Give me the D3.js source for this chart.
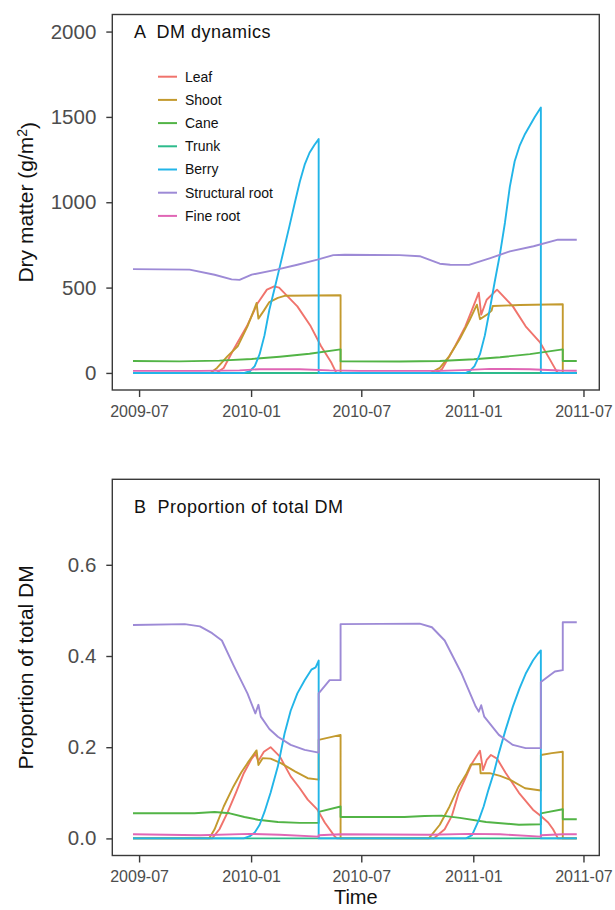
<!DOCTYPE html>
<html>
<head>
<meta charset="utf-8">
<script src="https://cdn.jsdelivr.net/npm/d3@7"></script>
<style>
  body { margin: 0; background: #fff; }
  svg text { font-family: "Liberation Sans", Arial, Helvetica, sans-serif; }
</style>
</head>
<body>
<svg id="chart" width="615" height="910"></svg>
<script>
// Organ names, in drawing order, with their line colours
const categories = ["Leaf", "Shoot", "Cane", "Trunk", "Berry", "Structural root", "Fine root"];
const colors = ["#F0736C", "#C39A2E", "#52B446", "#2DBB8C", "#22B5E8", "#9D8AD6", "#E066B5"];

// Axis ticks
const xTickLabels = ["2009-07", "2010-01", "2010-07", "2011-01", "2011-07"];
const dmTicks = [0, 500, 1000, 1500, 2000];
const propTicks = [0, 0.2, 0.4, 0.6];

// Panel A: dry matter per organ (g/m2)
const leafDM = [["2009-06-21",0],["2009-11-05",0],["2009-11-17",29],["2009-12-03",136],["2009-12-25",273],["2010-01-12",410],["2010-01-27",488],["2010-02-08",507],["2010-02-16",500],["2010-03-18",390],["2010-04-09",273],["2010-04-26",156],["2010-05-13",59],["2010-05-21",0],["2010-10-30",0],["2010-11-10",19],["2010-12-02",156],["2010-12-19",273],["2010-12-30",371],["2011-01-10",470],["2011-01-14",342],["2011-01-23",429],["2011-02-09",488],["2011-03-07",390],["2011-03-28",273],["2011-04-21",177],["2011-05-07",78],["2011-05-17",15],["2011-05-20",0],["2011-06-20",0]];
const shootDM = [["2009-06-21",0],["2009-10-26",0],["2009-11-06",29],["2009-11-23",97],["2009-12-10",156],["2009-12-26",273],["2010-01-06",371],["2010-01-10",410],["2010-01-13",318],["2010-01-22",365],["2010-01-31",415],["2010-02-14",440],["2010-02-25",452],["2010-05-28",455],["2010-05-28",0],["2010-10-23",0],["2010-11-07",30],["2010-11-23",100],["2010-12-10",200],["2010-12-26",310],["2011-01-07",400],["2011-01-12",315],["2011-01-25",345],["2011-01-31",365],["2011-02-02",392],["2011-03-18",398],["2011-05-28",402],["2011-05-28",0],["2011-06-20",0]];
const caneDM = [["2009-06-21",70],["2009-09-05",68],["2009-11-10",72],["2010-01-02",82],["2010-02-17",95],["2010-04-07",112],["2010-05-28",138],["2010-05-28",68],["2010-09-02",67],["2010-11-07",70],["2011-01-02",80],["2011-02-14",92],["2011-04-04",110],["2011-05-28",138],["2011-05-28",70],["2011-06-20",70]];
const trunkDM = [["2009-06-21",0],["2011-06-20",0]];
const berryDM = [["2009-06-21",0],["2009-12-21",0],["2009-12-30",10],["2010-01-07",40],["2010-01-15",110],["2010-01-23",220],["2010-01-31",370],["2010-02-09",500],["2010-02-17",620],["2010-02-25",740],["2010-03-05",860],["2010-03-14",1000],["2010-03-22",1120],["2010-03-30",1220],["2010-04-07",1290],["2010-04-15",1335],["2010-04-22",1370],["2010-04-22",0],["2010-12-20",0],["2010-12-26",10],["2011-01-03",40],["2011-01-12",110],["2011-01-20",220],["2011-01-28",370],["2011-02-05",530],["2011-02-14",700],["2011-02-22",880],["2011-03-02",1090],["2011-03-10",1240],["2011-03-18",1330],["2011-03-27",1400],["2011-04-04",1450],["2011-04-12",1500],["2011-04-22",1555],["2011-04-22",0],["2011-06-20",0]];
const structDM = [["2009-06-21",608],["2009-09-22",605],["2009-11-02",575],["2009-11-30",548],["2009-12-13",545],["2010-01-02",576],["2010-02-12",605],["2010-03-18",634],["2010-04-20",664],["2010-05-16",690],["2010-06-04",692],["2010-09-02",690],["2010-10-05",684],["2010-11-07",640],["2010-11-24",634],["2010-12-25",633],["2011-01-29",673],["2011-03-02",712],["2011-04-10",742],["2011-05-20",781],["2011-06-20",780]];
const fineDM = [["2009-06-21",12],["2009-10-09",12],["2009-12-13",15],["2010-01-15",22],["2010-03-22",22],["2010-05-10",15],["2010-06-28",12],["2010-11-07",12],["2010-12-26",18],["2011-01-28",24],["2011-04-04",22],["2011-05-23",14],["2011-06-20",13]];

// Panel B: share of total dry matter per organ
const leafProp = [["2009-06-21",0],["2009-10-29",0],["2009-11-10",0.02],["2009-11-23",0.056],["2009-12-07",0.1],["2009-12-20",0.143],["2010-01-02",0.175],["2010-01-08",0.185],["2010-01-13",0.17],["2010-01-22",0.19],["2010-02-02",0.2],["2010-02-17",0.18],["2010-03-07",0.136],["2010-03-22",0.11],["2010-04-04",0.085],["2010-04-20",0.063],["2010-05-02",0.035],["2010-05-18",0.005],["2010-05-22",0],["2010-10-28",0],["2010-11-15",0.02],["2010-11-27",0.05],["2010-12-08",0.1],["2010-12-20",0.135],["2010-12-30",0.165],["2011-01-12",0.192],["2011-01-17",0.15],["2011-01-23",0.172],["2011-01-30",0.183],["2011-02-09",0.175],["2011-02-23",0.144],["2011-03-17",0.1],["2011-04-09",0.063],["2011-04-22",0.049],["2011-05-04",0.035],["2011-05-12",0.02],["2011-05-20",0],["2011-06-20",0]];
const shootProp = [["2009-06-21",0],["2009-10-24",0],["2009-11-02",0.02],["2009-11-17",0.07],["2009-12-03",0.114],["2009-12-16",0.145],["2009-12-26",0.165],["2010-01-10",0.193],["2010-01-13",0.161],["2010-01-20",0.176],["2010-02-02",0.175],["2010-02-19",0.165],["2010-03-14",0.147],["2010-04-04",0.132],["2010-04-22",0.129],["2010-04-22",0.216],["2010-05-28",0.227],["2010-05-28",0],["2010-10-20",0],["2010-11-07",0.03],["2010-11-23",0.07],["2010-12-08",0.114],["2010-12-20",0.14],["2010-12-28",0.162],["2011-01-12",0.163],["2011-01-13",0.143],["2011-01-28",0.143],["2011-02-14",0.137],["2011-03-02",0.129],["2011-03-27",0.11],["2011-04-22",0.105],["2011-04-22",0.183],["2011-05-10",0.187],["2011-05-28",0.19],["2011-05-28",0],["2011-06-20",0]];
const caneProp = [["2009-06-21",0.055],["2009-09-30",0.055],["2009-11-02",0.058],["2009-11-27",0.055],["2009-12-21",0.047],["2010-01-12",0.041],["2010-02-14",0.036],["2010-03-22",0.034],["2010-04-22",0.034],["2010-04-22",0.058],["2010-05-28",0.07],["2010-05-28",0.047],["2010-09-10",0.047],["2010-10-13",0.049],["2010-11-10",0.05],["2010-12-10",0.045],["2011-01-22",0.036],["2011-03-17",0.03],["2011-04-22",0.031],["2011-04-22",0.055],["2011-05-28",0.064],["2011-05-28",0.042],["2011-06-20",0.042]];
const trunkProp = [["2009-06-21",0],["2011-06-20",0]];
const berryProp = [["2009-06-21",0],["2009-12-20",0],["2009-12-30",0.005],["2010-01-07",0.013],["2010-01-15",0.03],["2010-01-23",0.058],["2010-02-02",0.1],["2010-02-14",0.158],["2010-02-25",0.23],["2010-03-07",0.28],["2010-03-18",0.318],["2010-03-30",0.347],["2010-04-10",0.37],["2010-04-17",0.375],["2010-04-22",0.39],["2010-04-22",0],["2010-12-20",0],["2010-12-30",0.007],["2011-01-10",0.04],["2011-01-18",0.07],["2011-01-26",0.107],["2011-02-04",0.145],["2011-02-12",0.187],["2011-02-23",0.238],["2011-03-07",0.289],["2011-03-18",0.329],["2011-03-28",0.361],["2011-04-09",0.39],["2011-04-17",0.405],["2011-04-22",0.412],["2011-04-22",0],["2011-06-20",0]];
const structProp = [["2009-06-21",0.468],["2009-09-14",0.47],["2009-10-09",0.465],["2009-10-29",0.45],["2009-11-14",0.434],["2009-12-03",0.38],["2009-12-26",0.318],["2010-01-08",0.274],["2010-01-13",0.293],["2010-01-17",0.267],["2010-01-31",0.24],["2010-02-14",0.223],["2010-03-07",0.205],["2010-03-30",0.194],["2010-04-22",0.188],["2010-04-22",0.318],["2010-05-10",0.347],["2010-05-28",0.347],["2010-05-28",0.47],["2010-10-05",0.471],["2010-10-25",0.463],["2010-11-15",0.434],["2010-12-13",0.361],["2011-01-05",0.289],["2011-01-10",0.278],["2011-01-14",0.292],["2011-01-19",0.267],["2011-02-12",0.227],["2011-03-07",0.205],["2011-03-28",0.198],["2011-04-22",0.198],["2011-04-22",0.343],["2011-05-15",0.366],["2011-05-28",0.369],["2011-05-28",0.474],["2011-06-20",0.474]];
const fineProp = [["2009-06-21",0.009],["2009-10-09",0.007],["2009-12-30",0.01],["2010-02-17",0.008],["2010-04-22",0.004],["2010-04-22",0.007],["2010-05-28",0.009],["2010-10-21",0.008],["2010-12-26",0.01],["2011-02-14",0.009],["2011-04-22",0.004],["2011-04-22",0.007],["2011-05-28",0.009],["2011-06-20",0.009]];

const dmSeries = [leafDM, shootDM, caneDM, trunkDM, berryDM, structDM, fineDM];
const propSeries = [leafProp, shootProp, caneProp, trunkProp, berryProp, structProp, fineProp];

const parseDay = d3.utcParse("%Y-%m-%d");
const parseMonth = d3.utcParse("%Y-%m");
const svg = d3.select("#chart");

const left = 112.3, right = 599.3;
const x = d3.scaleUtc()
  .domain([Date.UTC(2009, 4, 18), Date.UTC(2011, 6, 27)])
  .range([left, right]);
const xTicks = xTickLabels.map(parseMonth);

function panel(opts) {
  const { top, bottom, yDomain, yTicks, yFormat, series, title, titleY, yTitle } = opts;
  const y = d3.scaleLinear().domain(yDomain).range([bottom, top]);
  const g = svg.append("g");

  // y axis
  const ya = g.append("g")
    .attr("transform", `translate(${left},0)`)
    .call(d3.axisLeft(y).tickValues(yTicks).tickFormat(yFormat).tickSize(6).tickPadding(10));
  ya.select(".domain").remove();
  ya.selectAll(".tick line").attr("stroke", "#3a3a3a").attr("stroke-width", 1.4);
  ya.selectAll(".tick text").attr("fill", "#4d4d4d").style("font-size", "20.5px");

  // x axis
  const xa = g.append("g")
    .attr("transform", `translate(0,${bottom})`)
    .call(d3.axisBottom(x).tickValues(xTicks).tickFormat(d3.utcFormat("%Y-%m")).tickSize(7).tickPadding(8.3));
  xa.select(".domain").remove();
  xa.selectAll(".tick line").attr("stroke", "#3a3a3a").attr("stroke-width", 1.4);
  xa.selectAll(".tick text").attr("fill", "#4d4d4d").style("font-size", "16px");

  // series lines
  const line = d3.line()
    .x(d => x(parseDay(d[0])))
    .y(d => y(d[1]));
  g.append("g").selectAll("path")
    .data(series)
    .join("path")
    .attr("d", line)
    .attr("fill", "none")
    .attr("stroke", (d, i) => colors[i])
    .attr("stroke-width", 1.9)
    .attr("stroke-linejoin", "round");

  // panel border
  g.append("rect")
    .attr("x", left).attr("y", top)
    .attr("width", right - left).attr("height", bottom - top)
    .attr("fill", "none").attr("stroke", "#3a3a3a").attr("stroke-width", 1.4);

  // panel label
  g.append("text")
    .attr("x", 134).attr("y", titleY)
    .style("font-size", "18px").style("letter-spacing", "0.5px")
    .attr("fill", "#111")
    .attr("xml:space", "preserve")
    .text(title);

  // y axis title
  const yt = g.append("text")
    .attr("transform", `translate(33,${(top + bottom) / 2}) rotate(-90)`)
    .attr("text-anchor", "middle")
    .style("font-size", "21px")
    .attr("fill", "#111");
  yTitle(yt);
  return y;
}

panel({
  top: 14.5, bottom: 390, yDomain: [-100, 2100], yTicks: dmTicks, yFormat: d3.format("d"),
  series: dmSeries, title: "A  DM dynamics", titleY: 38.3,
  yTitle: t => {
    t.append("tspan").text("Dry matter (g/m");
    t.append("tspan").attr("dy", "-0.45em").style("font-size", "14px").text("2");
    t.append("tspan").attr("dy", "0.45em").text(")");
  }
});

panel({
  top: 479.3, bottom: 855.5, yDomain: [-0.0375, 0.7875], yTicks: propTicks, yFormat: d3.format(".1f"),
  series: propSeries, title: "B  Proportion of total DM", titleY: 512.7,
  yTitle: t => t.text("Proportion of total DM")
});

// legend inside panel A
const legend = svg.append("g");
categories.forEach((name, i) => {
  const cy = 76.7 + i * 23.2;
  legend.append("line")
    .attr("x1", 158).attr("x2", 177).attr("y1", cy).attr("y2", cy)
    .attr("stroke", colors[i]).attr("stroke-width", 2);
  legend.append("text")
    .attr("x", 185).attr("y", cy).attr("dy", "0.35em")
    .style("font-size", "14px").attr("fill", "#111")
    .text(name);
});

// shared x axis title
svg.append("text")
  .attr("x", (left + right) / 2).attr("y", 904)
  .attr("text-anchor", "middle")
  .style("font-size", "20px").attr("fill", "#111")
  .text("Time");
</script>
</body>
</html>
